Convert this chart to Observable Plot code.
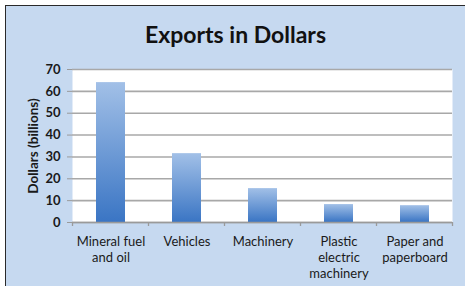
<!DOCTYPE html>
<html>
<head>
<meta charset="utf-8">
<script src="https://cdn.jsdelivr.net/npm/d3@7"></script>
<script src="https://cdn.jsdelivr.net/npm/@observablehq/plot@0.6"></script>
<style>
  html, body { margin: 0; padding: 0; background: #ffffff; }
  #frame {
    position: absolute; left: 5px; top: 5px; width: 459px; height: 280px;
    border-top: 1px solid #2a2a2a; border-left: 1px solid #2a2a2a;
    background: #c6d9f0; overflow: hidden;
    font-family: Lato, "Open Sans", sans-serif;
  }
  #title {
    height: 50px; line-height: 1; box-sizing: border-box; padding-top: 17px;
    text-align: center; font-weight: bold; font-size: 23px; color: #111;
  }
</style>
</head>
<body>
<div id="frame">
  <div id="title">Exports in Dollars</div>
  <div id="chart"></div>
</div>
<script>
const categories = ["Mineral fuel and oil", "Vehicles", "Machinery", "Plastic electric machinery", "Paper and paperboard"];
const tickLabels = ["Mineral fuel\nand oil", "Vehicles", "Machinery", "Plastic\nelectric\nmachinery", "Paper and\npaperboard"];
const values = [64, 31.5, 15.5, 8.2, 7.7];
const yTicks = [0, 10, 20, 30, 40, 50, 60, 70];
const yLabel = "Dollars (billions)";

const data = categories.map((c, i) => ({category: c, value: values[i]}));
const labelOf = new Map(categories.map((c, i) => [c, tickLabels[i]]));

const gradientDefs = () => {
  const defs = d3.create("svg:defs");
  const g = defs.append("linearGradient").attr("id", "barGrad")
    .attr("x1", 0).attr("y1", 0).attr("x2", 0).attr("y2", 1);
  g.append("stop").attr("offset", "0%").attr("stop-color", "#a2c0e7");
  g.append("stop").attr("offset", "100%").attr("stop-color", "#3a75c4");
  return defs.node();
};

const boundaryTicks = (index, scales, values, dimensions) => {
  const x = scales.x;
  const step = x.step(), bw = x.bandwidth();
  const y0 = dimensions.height - dimensions.marginBottom;
  const g = d3.create("svg:g").attr("stroke", "#9a9a9a").attr("stroke-width", 1.3);
  const edges = categories.map(c => x(c) - (step - bw) / 2);
  edges.push(x(categories[categories.length - 1]) + bw + (step - bw) / 2);
  for (const e of edges) {
    g.append("line").attr("x1", e).attr("x2", e).attr("y1", y0).attr("y2", y0 + 4);
  }
  return g.node();
};

const plot = Plot.plot({
  width: 459,
  height: 230,
  marginTop: 13,
  marginBottom: 64,
  marginLeft: 66,
  marginRight: 13,
  style: {background: "transparent", fontFamily: "Lato, 'Open Sans', sans-serif", overflow: "visible"},
  x: {domain: categories, paddingInner: 0.62, paddingOuter: 0.31, label: null},
  y: {domain: [0, 70], label: null},
  marks: [
    gradientDefs,
    Plot.frame({fill: "white", stroke: "none"}),
    Plot.gridY(yTicks, {stroke: "#a8a8a8", strokeOpacity: 1, strokeWidth: 1.6}),
    Plot.axisY(yTicks, {
      tickSize: 5, tickPadding: 7, stroke: "#9a9a9a", fontSize: 13, fontWeight: "bold",
      fill: "#1a1a1a", label: null
    }),
    Plot.text([yLabel], {
      frameAnchor: "left", textAnchor: "middle", dx: -39, rotate: -90, fontSize: 13.5, fontWeight: "bold", fill: "#1a1a1a"
    }),
    Plot.barY(data, {x: "category", y: "value", fill: "url(#barGrad)"}),
    Plot.ruleY([0], {stroke: "#9a9a9a", strokeWidth: 1.6}),
    boundaryTicks,
    Plot.axisX({
      tickSize: 0, tickPadding: 12, fontSize: 13, fill: "#1a1a1a", lineHeight: 1.23,
      tickFormat: d => labelOf.get(d), label: null, textOverflow: null
    })
  ]
});
document.getElementById("chart").appendChild(plot);
</script>
</body>
</html>
